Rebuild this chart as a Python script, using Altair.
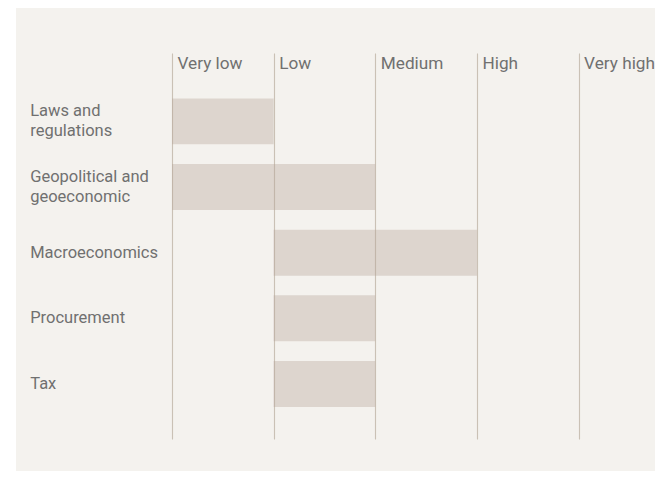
import altair as alt
import pandas as pd

levels = ["Very low", "Low", "Medium", "High", "Very high"]
categories = ["Laws and\nregulations", "Geopolitical and\ngeoeconomic",
              "Macroeconomics", "Procurement", "Tax"]
risk_from = ["Very low", "Very low", "Low", "Low", "Low"]
risk_to = ["Very low", "Low", "Medium", "Low", "Low"]

df = pd.DataFrame({
    "category": categories,
    "start": [levels.index(v) for v in risk_from],
    "end": [levels.index(v) + 1 for v in risk_to],
})

BG = "#f4f2ee"
TEXT = "#707070"
W, H = 480, 386
STEP = 101.65

x_scale = alt.Scale(domain=[0, W / STEP], nice=False, zero=False)
y_scale = alt.Scale(domain=categories, paddingInner=0.3, paddingOuter=0.59, align=0.586)

level_js = "[" + ",".join("'%s'" % l for l in levels) + "]"

bars = alt.Chart(df).mark_rect(color="#ddd5ce").encode(
    x=alt.X("start:Q", scale=x_scale, title=None,
            axis=alt.Axis(orient="top", values=[0, 1, 2, 3, 4],
                          labelExpr=level_js + "[datum.value]",
                          labelAlign="left", labelBaseline="alphabetic",
                          labelPadding=-15.5, labelOffset=5, tickSize=0, ticks=False,
                          domain=False, grid=True, gridColor="#b3a696", gridOpacity=0.65,
                          gridWidth=1.1, zindex=1, labelFont="Roboto", labelFontSize=17.2,
                          labelColor=TEXT, labelFlush=False, labelOverlap=False,
                          labelBound=False)),
    x2="end:Q",
    y=alt.Y("category:N", scale=y_scale, sort=categories, title=None,
            axis=alt.Axis(orient="left", labelAlign="left", labelBaseline="middle",
                          labelPadding=142.3, ticks=False, tickSize=0, domain=False,
                          labelOffset={"condition": {"test": "indexof(datum.value, '\\n') >= 0",
                                                     "value": -10}, "value": 0},
                          grid=False, labelFont="Roboto", labelFontSize=16.5,
                          labelColor=TEXT, labelLineHeight=20, labelLimit=200,
                          labelExpr="split(datum.label, '\\n')")),
)

strip = alt.Chart(pd.DataFrame({"a": [0]})).mark_rect(color="white").encode(
    x=alt.value(-164), x2=alt.value(-156), y=alt.value(-45), y2=alt.value(H + 40)
)

chart = alt.layer(strip, bars).properties(
    width=W, height=H,
    autosize=alt.AutoSizeParams(type="none"),
    padding={"left": 164, "top": 45, "right": 3, "bottom": 32},
    background=BG,
).configure_view(stroke=None)

chart.save("out.html", embed_options={"renderer": "svg", "actions": False})
